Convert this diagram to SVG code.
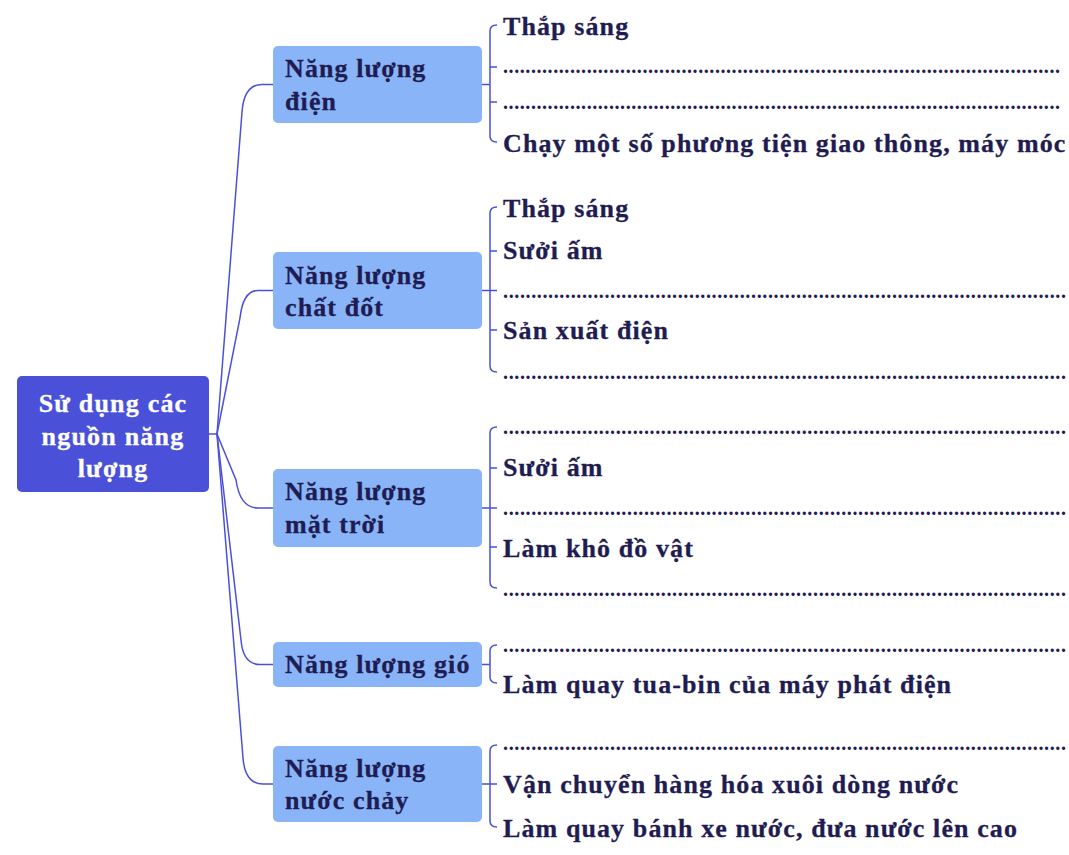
<svg xmlns="http://www.w3.org/2000/svg" width="1069" height="855" viewBox="0 0 1069 855">
<style>
  .t{font-family:"Liberation Serif","Times New Roman",serif;font-weight:bold;font-size:26px;letter-spacing:1.1px;fill:#1f1c52;stroke:#1f1c52;stroke-width:0.3}
  .r{font-family:"Liberation Serif","Times New Roman",serif;font-weight:bold;font-size:26px;letter-spacing:1.2px;fill:#ffffff;stroke:#ffffff;stroke-width:0.3;text-anchor:middle}
  .d{font-family:"Liberation Serif","Times New Roman",serif;font-weight:bold;font-size:20px;fill:#1f1c52}
  .cat{fill:#8ab4f8}
  .root{fill:#4a50d8}
  .c{fill:none;stroke:#4a50d8;stroke-width:1.5}
</style>
<rect width="1069" height="855" fill="#ffffff"/>
<g id="connectors">
  <path class="c" d="M209,434 L217,434 L242,112 Q244,84.5 262,84.5 L273,84.5"/>
  <path class="c" d="M217,434 L240,318 Q243,290.5 258,290.5 L273,290.5"/>
  <path class="c" d="M217,434 L236,480 Q240,508 258,508 L273,508"/>
  <path class="c" d="M217,434 L241,640 Q243,664.5 260,664.5 L273,664.5"/>
  <path class="c" d="M217,434 L243,758 Q245,784 263,784 L273,784"/>
  <path class="c" d="M482,84.5 L490,84.5 M497,25 Q490,25 490,31 L490,136 Q490,142 497,142 M490,67 L497,67 M490,102 L497,102"/>
  <path class="c" d="M482,290.5 L497,290.5 M497,207 Q490,207 490,213 L490,366 Q490,372 497,372 M490,251 L497,251 M490,330 L497,330"/>
  <path class="c" d="M482,508 L497,508 M497,427 Q490,427 490,433 L490,582 Q490,588 497,588 M490,468 L497,468 M490,547 L497,547"/>
  <path class="c" d="M482,664.5 L490,664.5 M497,645 Q490,645 490,651 L490,677 Q490,683 497,683"/>
  <path class="c" d="M482,784 L497,784 M497,745 Q490,745 490,751 L490,821 Q490,827 497,827"/>
</g>
<g id="root">
  <rect class="root" x="17" y="376" width="192" height="116" rx="5"/>
  <text class="r" x="113" y="412">Sử dụng các</text>
  <text class="r" x="113" y="445">nguồn năng</text>
  <text class="r" x="113" y="477">lượng</text>
</g>
<g id="n-dien">
  <rect class="cat" x="273" y="46" width="209" height="77" rx="5"/>
  <text class="t" x="285" y="77">Năng lượng</text>
  <text class="t" x="285" y="110">điện</text>
</g>
<g id="n-chatdot">
  <rect class="cat" x="273" y="252" width="209" height="77" rx="5"/>
  <text class="t" x="285" y="284">Năng lượng</text>
  <text class="t" x="285" y="316">chất đốt</text>
</g>
<g id="n-mattroi">
  <rect class="cat" x="273" y="469" width="209" height="78" rx="5"/>
  <text class="t" x="285" y="500">Năng lượng</text>
  <text class="t" x="285" y="533">mặt trời</text>
</g>
<g id="n-gio">
  <rect class="cat" x="273" y="642" width="209" height="45" rx="5"/>
  <text class="t" x="285" y="673">Năng lượng gió</text>
</g>
<g id="n-nuoc">
  <rect class="cat" x="273" y="746" width="209" height="76" rx="5"/>
  <text class="t" x="285" y="777">Năng lượng</text>
  <text class="t" x="285" y="809">nước chảy</text>
</g>
<g id="leaves-dien">
  <text class="t" x="503" y="35">Thắp sáng</text>
  <text class="d" x="503" y="73" textLength="557" lengthAdjust="spacing">....................................................................................................</text>
  <text class="d" x="503" y="109" textLength="557" lengthAdjust="spacing">....................................................................................................</text>
  <text class="t" x="503" y="152">Chạy một số phương tiện giao thông, máy móc</text>
</g>
<g id="leaves-chatdot">
  <text class="t" x="503" y="217">Thắp sáng</text>
  <text class="t" x="503" y="259">Sưởi ấm</text>
  <text class="d" x="503" y="298" textLength="563" lengthAdjust="spacing">....................................................................................................</text>
  <text class="t" x="503" y="339">Sản xuất điện</text>
  <text class="d" x="503" y="379" textLength="563" lengthAdjust="spacing">....................................................................................................</text>
</g>
<g id="leaves-mattroi">
  <text class="d" x="503" y="434" textLength="563" lengthAdjust="spacing">....................................................................................................</text>
  <text class="t" x="503" y="476">Sưởi ấm</text>
  <text class="d" x="503" y="515" textLength="563" lengthAdjust="spacing">....................................................................................................</text>
  <text class="t" x="503" y="557">Làm khô đồ vật</text>
  <text class="d" x="503" y="596" textLength="563" lengthAdjust="spacing">....................................................................................................</text>
</g>
<g id="leaves-gio">
  <text class="d" x="503" y="652" textLength="563" lengthAdjust="spacing">....................................................................................................</text>
  <text class="t" x="503" y="693">Làm quay tua-bin của máy phát điện</text>
</g>
<g id="leaves-nuoc">
  <text class="d" x="503" y="750" textLength="563" lengthAdjust="spacing">....................................................................................................</text>
  <text class="t" x="503" y="793">Vận chuyển hàng hóa xuôi dòng nước</text>
  <text class="t" x="503" y="837">Làm quay bánh xe nước, đưa nước lên cao</text>
</g>
</svg>
